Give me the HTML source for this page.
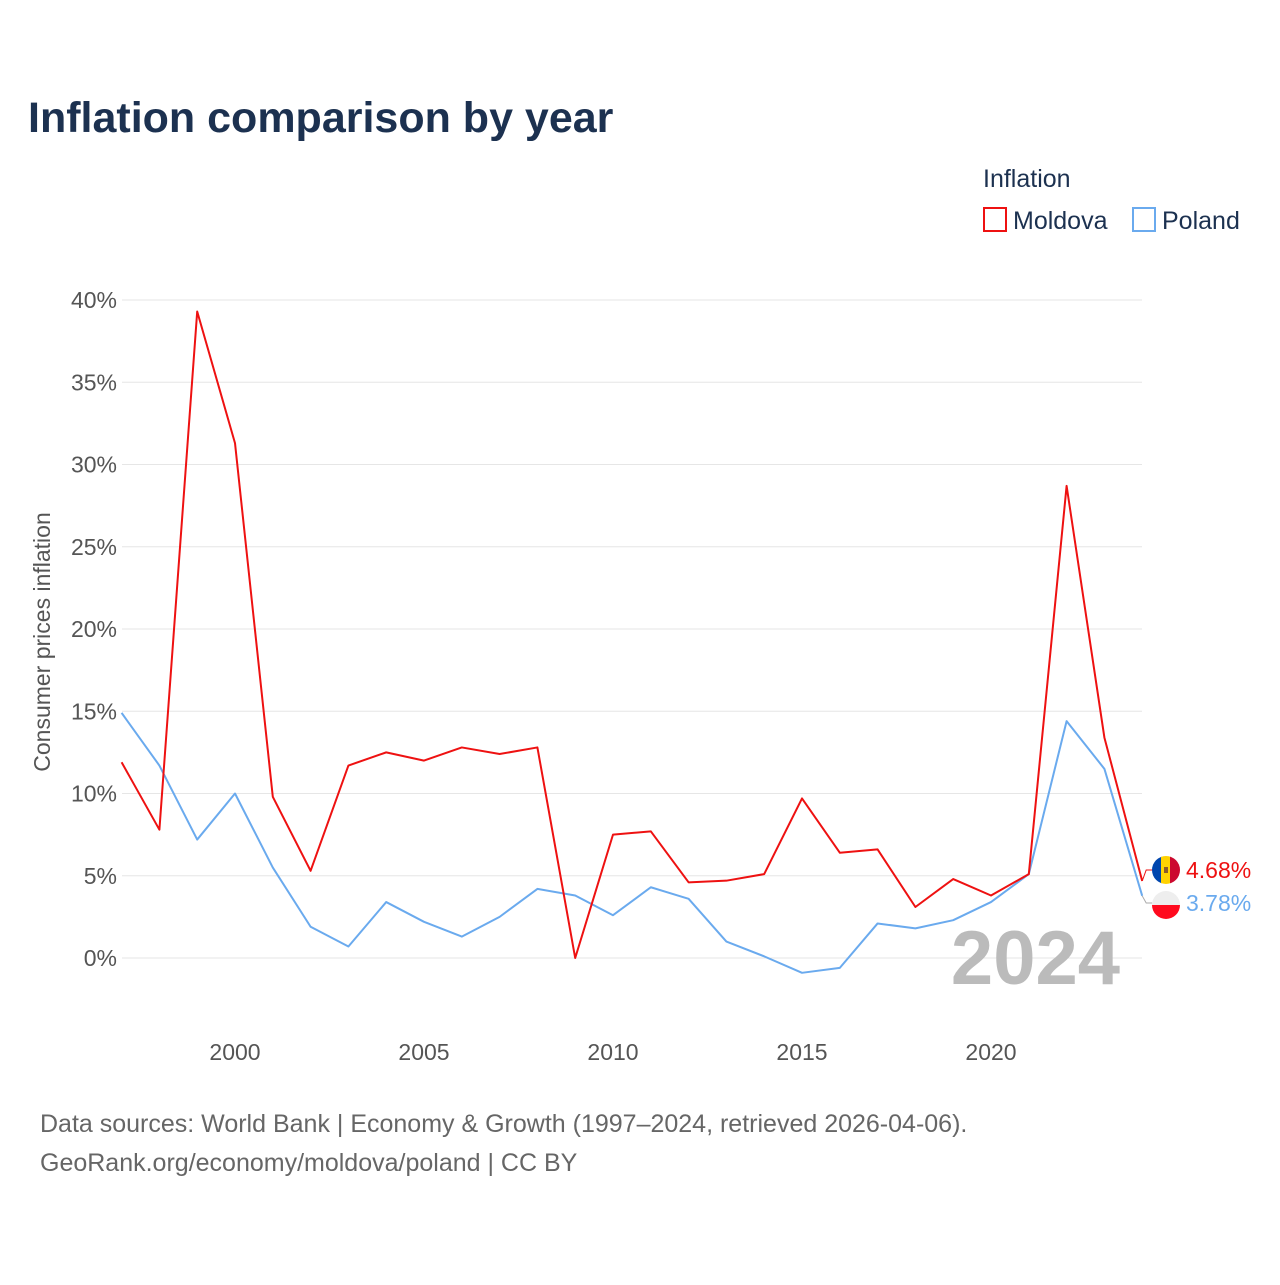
<!DOCTYPE html>
<html><head><meta charset="utf-8">
<style>
html,body{margin:0;padding:0;background:#fff;}
body{width:1280px;height:1280px;overflow:hidden;font-family:"Liberation Sans",sans-serif;}
</style></head>
<body>
<svg id="chart" width="1280" height="1280" xmlns="http://www.w3.org/2000/svg" font-family="Liberation Sans, sans-serif">
  <text x="28" y="132" font-size="43" font-weight="bold" fill="#1c3150">Inflation comparison by year</text>
  <text x="983" y="187" font-size="25" fill="#1c3150">Inflation</text>
  <g>
    <rect x="984" y="208" width="22" height="23" fill="none" stroke="#ee1111" stroke-width="2"/>
    <text x="1013" y="229" font-size="25" fill="#1c3150">Moldova</text>
  </g>
  <g>
    <rect x="1133" y="208" width="22" height="23" fill="none" stroke="#6aaaee" stroke-width="2"/>
    <text x="1162" y="229" font-size="25" fill="#1c3150">Poland</text>
  </g>
  <g id="grid"></g>
  <g id="yticks"></g>
  <g id="xticks"></g>
  <text transform="translate(50,642) rotate(-90)" text-anchor="middle" font-size="23" fill="#555">Consumer prices inflation</text>
  <text x="1120" y="984" text-anchor="end" font-size="76" font-weight="bold" fill="#bbb">2024</text>
  <g id="series"></g>
  <text x="40" y="1132" font-size="25" fill="#666">Data sources: World Bank | Economy &amp; Growth (1997–2024, retrieved 2026-04-06).</text>
  <text x="40" y="1171" font-size="25" fill="#666">GeoRank.org/economy/moldova/poland | CC BY</text>
</svg>
<script>
const years = [1997,1998,1999,2000,2001,2002,2003,2004,2005,2006,2007,2008,2009,2010,2011,2012,2013,2014,2015,2016,2017,2018,2019,2020,2021,2022,2023,2024];
const moldova = [11.9,7.8,39.3,31.3,9.8,5.3,11.7,12.5,12.0,12.8,12.4,12.8,0.0,7.5,7.7,4.6,4.7,5.1,9.7,6.4,6.6,3.1,4.8,3.8,5.1,28.7,13.4,4.68];
const poland = [14.9,11.7,7.2,10.0,5.5,1.9,0.7,3.4,2.2,1.3,2.5,4.2,3.8,2.6,4.3,3.6,1.0,0.1,-0.9,-0.6,2.1,1.8,2.3,3.4,5.1,14.4,11.5,3.78];
const yTicks = [0,5,10,15,20,25,30,35,40];
const xTicks = [2000,2005,2010,2015,2020];
const NS="http://www.w3.org/2000/svg";
const xs = y => 235 + (y-2000)*(991-235)/20;
const ys = v => 958 - v*(958-300)/40;
function mk(tag,attrs,parent){const e=document.createElementNS(NS,tag);for(const k in attrs)e.setAttribute(k,attrs[k]);parent.appendChild(e);return e;}
const grid=document.getElementById('grid'),yt=document.getElementById('yticks'),xt=document.getElementById('xticks'),ser=document.getElementById('series');
yTicks.forEach(t=>{
  const l=mk('line',{x1:122,x2:1142,y1:ys(t),y2:ys(t),stroke:'#e6e6e6','stroke-width':1},grid);
  
  
  const tx=mk('text',{x:117,y:ys(t)+8,'text-anchor':'end','font-size':23,fill:'#555'},yt);
  tx.textContent=t+'%';
  
  
});
xTicks.forEach(t=>{
  const tx=mk('text',{x:xs(t),y:1060,'text-anchor':'middle','font-size':23,fill:'#555'},xt);
  tx.textContent=t;
  
  
});
function line(vals,color,name){
  const p=mk('polyline',{points:vals.map((v,i)=>xs(years[i])+','+ys(v)).join(' '),fill:'none',stroke:color,'stroke-width':2,'stroke-linejoin':'round'},ser);
  
  
}
line(poland,'#6aaaee','poland-line');
line(moldova,'#ee1111','moldova-line');
const lx=xs(2024);
const mY=ys(moldova[moldova.length-1]), pY=ys(poland[poland.length-1]);
const mLabY=870, pLabY=903;
mk('polyline',{points:`${lx},${mY} ${lx+4},${mLabY} ${lx+10},${mLabY}`,fill:'none',stroke:'#ee1111','stroke-width':1},ser);
mk('polyline',{points:`${lx},${pY} ${lx+4},${pLabY} ${lx+10},${pLabY}`,fill:'none',stroke:'#aaa','stroke-width':1},ser);
const fm=mk('g',{},ser);


const cm=mk('clipPath',{id:'cm'},fm);
mk('circle',{cx:1166,cy:mLabY,r:14},cm);
const gm=mk('g',{'clip-path':'url(#cm)'},fm);
mk('rect',{x:1152,y:mLabY-14,width:10,height:28,fill:'#0046ae'},gm);
mk('rect',{x:1161,y:mLabY-14,width:10,height:28,fill:'#ffd200'},gm);
mk('rect',{x:1170,y:mLabY-14,width:10,height:28,fill:'#cc092f'},gm);
mk('rect',{x:1164,y:mLabY-3,width:4,height:6,fill:'#8a5a2b'},gm);
const fp=mk('g',{},ser);


const cp=mk('clipPath',{id:'cp'},fp);
mk('circle',{cx:1166,cy:pLabY+2,r:14},cp);
const gp=mk('g',{'clip-path':'url(#cp)'},fp);
mk('rect',{x:1152,y:pLabY-12,width:28,height:14,fill:'#eeeeee'},gp);
mk('rect',{x:1152,y:pLabY+2,width:28,height:14,fill:'#ff0a1e'},gp);
const ml=mk('text',{x:1186,y:mLabY+8,'font-size':23,fill:'#ee1111'},ser);
ml.textContent=moldova[moldova.length-1].toFixed(2)+'%';


const pl=mk('text',{x:1186,y:pLabY+8,'font-size':23,fill:'#6aaaee'},ser);
pl.textContent=poland[poland.length-1].toFixed(2)+'%';


</script>
</body></html>
